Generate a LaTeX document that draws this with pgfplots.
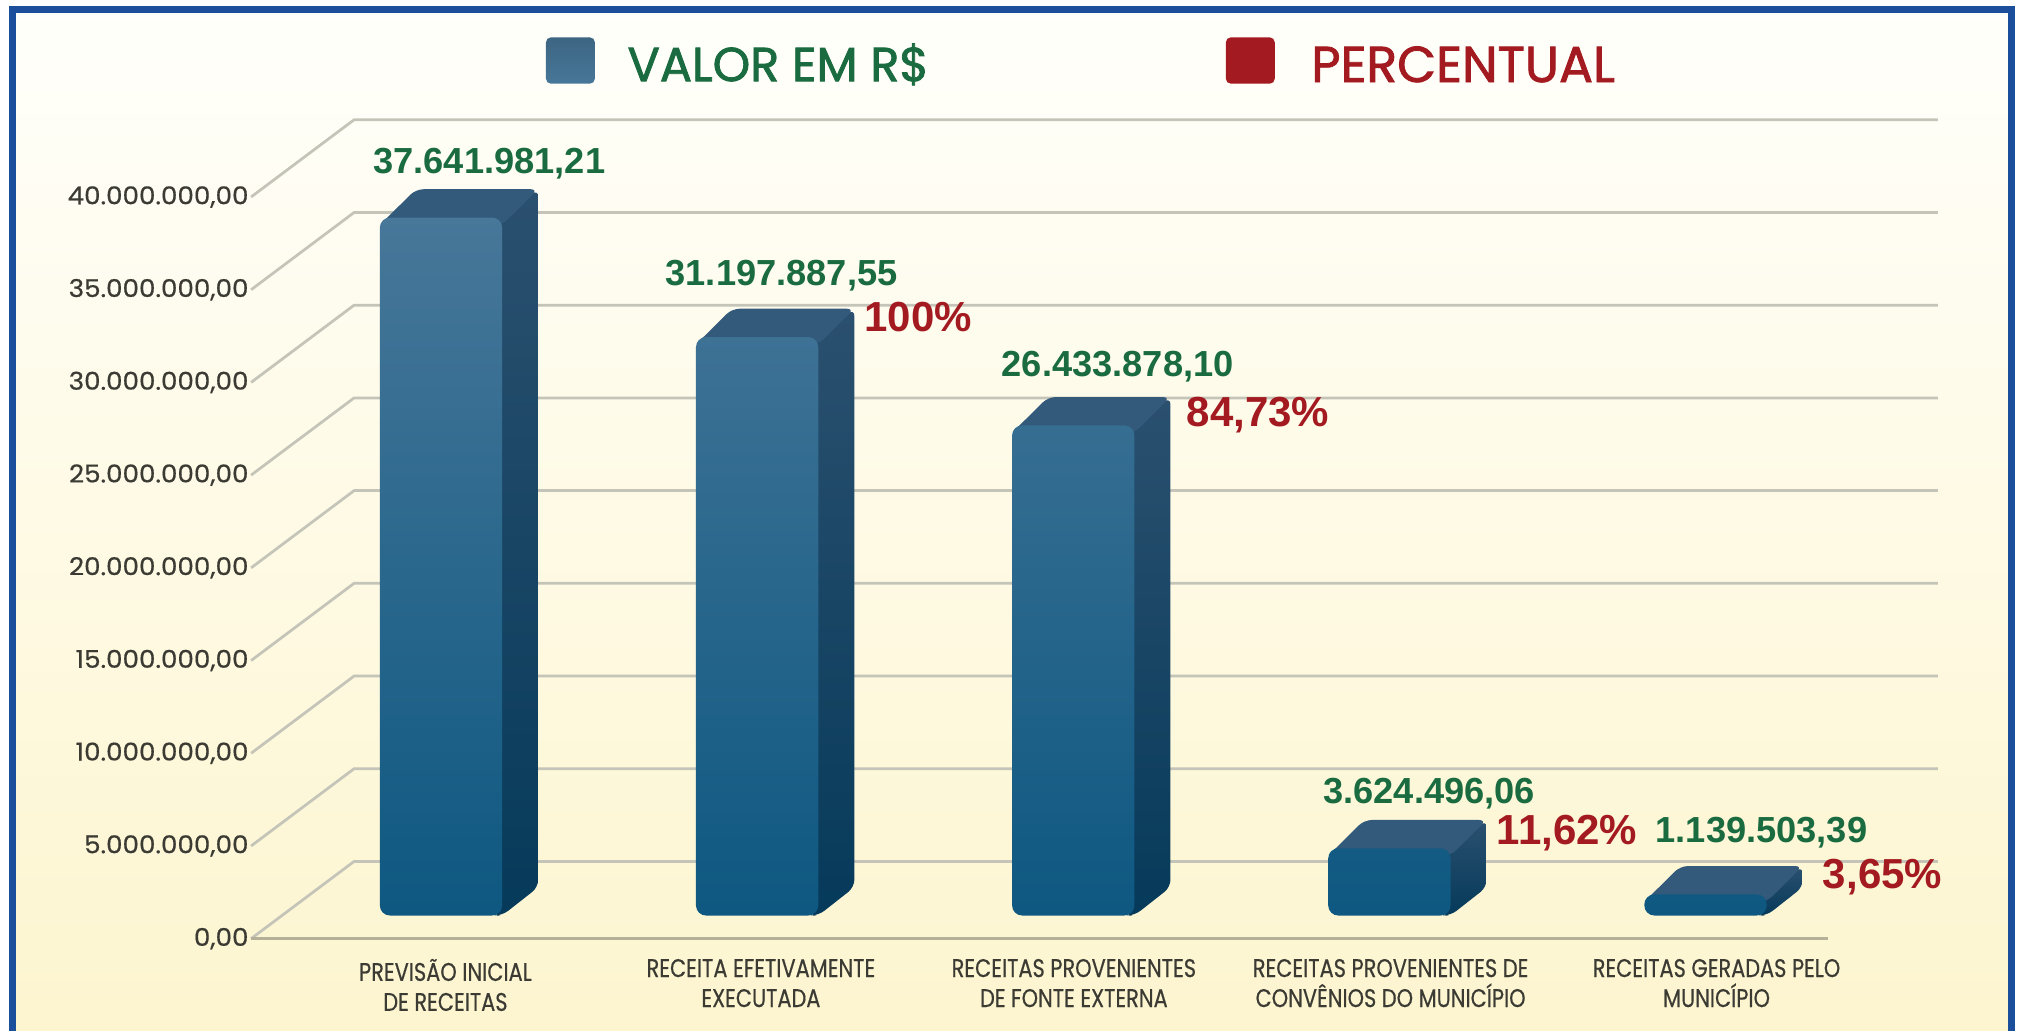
\documentclass[border=0pt]{standalone}
\usepackage{pgfplots}
\usepackage{pgfplotstable}
\usepackage{fontspec}
\pgfplotsset{compat=1.18}
\setmainfont{Liberation Sans}
\newfontfamily\geo[FakeBold=1.6]{Poppins}
\newfontfamily\tickf[FakeStretch=1.07,FakeBold=0.5]{Poppins}
\newfontfamily\catf[FakeStretch=0.82,FakeBold=0.5]{Poppins}
\definecolor{frameblue}{HTML}{1B4F9C}
\definecolor{gridc}{HTML}{C4C4B8}
\definecolor{floorc}{HTML}{B5B198}
\definecolor{greenv}{HTML}{1A6B40}
\definecolor{redv}{HTML}{A31A20}
\definecolor{fronttop}{HTML}{477799}
\definecolor{frontmid}{HTML}{0B5882}
\definecolor{frontbot}{HTML}{0E5881}
\definecolor{topc}{HTML}{33597B}
\definecolor{sidetop}{HTML}{2B506F}
\definecolor{sidebot}{HTML}{063A5A}
\definecolor{tickc}{HTML}{3B3B34}
\definecolor{creamt}{HTML}{FFFFFB}
\definecolor{creamb}{HTML}{FDF5CF}
\pgfplotstableread{
x y
0 37641981.21
1 31197887.55
2 26433878.10
3 3624496.06
4 1139503.39
}\valores
\pgfplotstableread{
x y
-0.6008 3750000
-0.2749 7916667
4.7352 7916667
nan nan
-0.6008 8750000
-0.2749 12916667
4.7352 12916667
nan nan
-0.6008 13750000
-0.2749 17916667
4.7352 17916667
nan nan
-0.6008 18750000
-0.2749 22916667
4.7352 22916667
nan nan
-0.6008 23750000
-0.2749 27916667
4.7352 27916667
nan nan
-0.6008 28750000
-0.2749 32916667
4.7352 32916667
nan nan
-0.6008 33750000
-0.2749 37916667
4.7352 37916667
nan nan
-0.6008 38750000
-0.2749 42916667
4.7352 42916667
}\grade
\pgfplotsset{
  lado/.style={draw=none,top color=sidetop,bottom color=sidebot,rounded corners=3pt},
  tampo/.style={draw=none,fill=topc,rounded corners=3pt},
  frente/.style={ybar,bar width=48.9pt,bar shift=0pt,draw=none,top color=fronttop,middle color=frontmid,bottom color=frontbot,rounded corners=4pt},
}
\begin{document}
\begin{tikzpicture}
\begin{scope}[x=0.515pt,y=-0.515pt]
\useasboundingbox (0,0) rectangle (1568,800);
\fill[white] (0,0) rectangle (1568,800);
\shade[top color=creamt,bottom color=creamb] (9,7) rectangle (1562,800);
\begin{scope}
\clip (0,0) rectangle (1568,800);
\draw[frameblue,line width=2.8pt] (9.5,7) rectangle (1562,806);
\end{scope}
\end{scope}
\begin{axis}[
  at={(100.425pt,-378.525pt)},anchor=south west,
  scale only axis,width=677.225pt,height=332.175pt,
  xmin=-0.6008,xmax=4.7556,ymin=-1666667,ymax=43125000,
  clip=false,
  axis line style={draw=none},
  tick style={draw=none},
  scaled y ticks=false,
  xtick={0.014,1.012,2.002,3.004,4.035},
  xticklabels={{PREVISÃO INICIAL\\DE RECEITAS},{RECEITA EFETIVAMENTE\\EXECUTADA},{RECEITAS PROVENIENTES\\DE FONTE EXTERNA},{RECEITAS PROVENIENTES DE\\CONVÊNIOS DO MUNICÍPIO},{RECEITAS GERADAS PELO\\MUNICÍPIO}},
  xticklabel style={align=center,font=\catf\fontsize{10.2}{12}\selectfont,text=tickc,yshift=-1.5pt},
  ytick={-1250000,3750000,8750000,13750000,18750000,23750000,28750000,33750000,38750000},
  yticklabels={{0,00},{5.000.000,00},{10.000.000,00},{15.000.000,00},{20.000.000,00},{25.000.000,00},{30.000.000,00},{35.000.000,00},{40.000.000,00}},
  yticklabel style={font=\tickf\fontsize{9.8}{11}\selectfont,text=tickc,anchor=east,xshift=2.5pt},
  unbounded coords=jump,
]
% grade
\addplot[gridc,line width=1.1pt,no marks] table[x=x,y=y] {\grade};
\addplot[gridc,line width=1.1pt,no marks] coordinates {(4.7352,2916667) (-0.2749,2916667) (-0.6008,-1250000)};
\addplot[floorc,line width=1.2pt,no marks] coordinates {(-0.6008,-1250000) (4.3890,-1250000)};
% barra 1
\addplot[lado] coordinates {(0.1635,0) (0.1935,0) (0.3076,1528000) (0.3076,39169981) (0.1635,37341981)} -- cycle;
\addplot[tampo] coordinates {(-0.1935,37241981) (-0.0794,39169981) (0.3076,39169981) (0.1935,37241981)} -- cycle;
% barra 2
\addplot[lado] coordinates {(1.1635,0) (1.1935,0) (1.3076,1528000) (1.3076,32725888) (1.1635,30897888)} -- cycle;
\addplot[tampo] coordinates {(0.8065,30797888) (0.9206,32725888) (1.3076,32725888) (1.1935,30797888)} -- cycle;
% barra 3
\addplot[lado] coordinates {(2.1635,0) (2.1935,0) (2.3076,1528000) (2.3076,27961878) (2.1635,26133878)} -- cycle;
\addplot[tampo] coordinates {(1.8065,26033878) (1.9206,27961878) (2.3076,27961878) (2.1935,26033878)} -- cycle;
% barra 4
\addplot[lado] coordinates {(3.1635,0) (3.1935,0) (3.3076,1528000) (3.3076,5152496) (3.1635,3324496)} -- cycle;
\addplot[tampo] coordinates {(2.8065,3224496) (2.9206,5152496) (3.3076,5152496) (3.1935,3224496)} -- cycle;
% barra 5
\addplot[lado] coordinates {(4.1635,0) (4.1935,0) (4.3076,1528000) (4.3076,2667503) (4.1635,839503)} -- cycle;
\addplot[tampo] coordinates {(3.8065,739503) (3.9206,2667503) (4.3076,2667503) (4.1935,739503)} -- cycle;
% frentes
\addplot[frente] table[x=x,y=y] {\valores};
\end{axis}
\begin{scope}[x=0.515pt,y=-0.515pt]
% legenda
\shade[top color=fronttop!85!black,bottom color=fronttop,rounded corners=2pt] (424,29) rectangle (462,65);
\node[anchor=west,inner sep=0pt,text=greenv] at (487,50) {\geo\fontsize{19.1}{20}\selectfont VALOR EM R\$};
\fill[redv,rounded corners=2pt] (952,29) rectangle (990,65);
\node[anchor=west,inner sep=0pt,text=redv] at (1018,50) {\geo\fontsize{20.2}{20}\selectfont PERCENTUAL};
% valores
\begin{scope}[every node/.style={inner sep=0pt,text=greenv,font=\bfseries\fontsize{14.5}{16}\selectfont}]
\node at (380,127) {37.641.981,21};
\node at (607,214) {31.197.887,55};
\node at (868,285) {26.433.878,10};
\node at (1110,616) {3.624.496,06};
\node at (1368,647) {1.139.503,39};
\end{scope}
\begin{scope}[every node/.style={inner sep=0pt,text=redv,font=\bfseries\fontsize{16.8}{18}\selectfont}]
\node at (713,246) {100\%};
\node at (977,322) {84,73\%};
\node at (1217,647) {11,62\%};
\node at (1462,681) {3,65\%};
\end{scope}
\end{scope}
\end{tikzpicture}
\end{document}
